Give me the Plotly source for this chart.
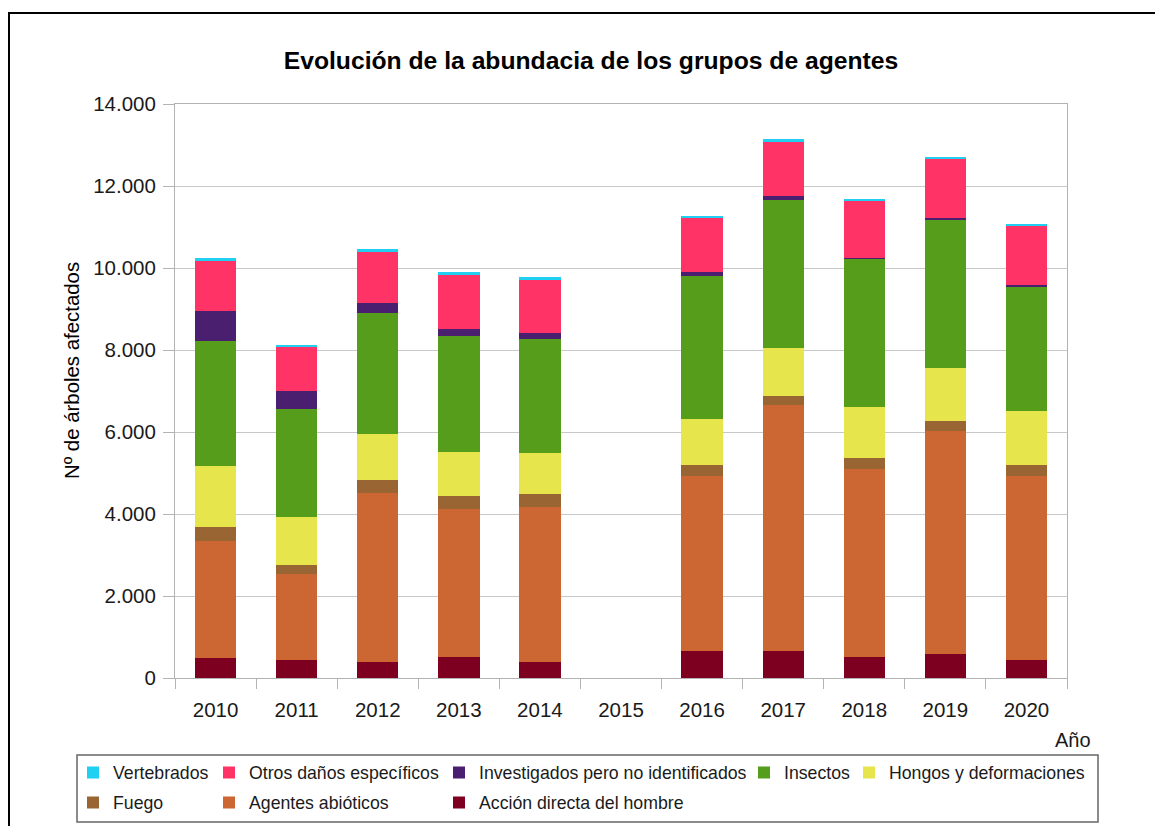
import plotly.graph_objects as go

years = ["2010", "2011", "2012", "2013", "2014", "2015", "2016", "2017", "2018", "2019", "2020"]

accion = [480, 435, 390, 505, 390, None, 650, 670, 505, 585, 435]
abioticos = [2870, 2090, 4130, 3625, 3775, None, 4280, 5980, 4585, 5435, 4495]
fuego = [330, 235, 305, 315, 315, None, 270, 235, 280, 260, 270]
hongos = [1480, 1175, 1130, 1060, 1020, None, 1120, 1155, 1245, 1280, 1315]
insectos = [3060, 2635, 2955, 2825, 2765, None, 3485, 3625, 3610, 3635, 3045]
investigados = [720, 435, 235, 175, 155, None, 95, 85, 20, 35, 15]
otros = [1250, 1070, 1245, 1315, 1280, None, 1330, 1330, 1390, 1425, 1445]
vertebrados = [45, 35, 80, 80, 70, None, 45, 70, 60, 50, 50]

series_names = ["Acción directa del hombre", "Agentes abióticos", "Fuego",
                "Hongos y deformaciones", "Insectos", "Investigados pero no identificados",
                "Otros daños específicos", "Vertebrados"]
series_values = [accion, abioticos, fuego, hongos, insectos, investigados, otros, vertebrados]
series_colors = ["#7e0021", "#cc6633", "#996633", "#e6e64c", "#579d1c", "#4b1f6f",
                 "#ff3366", "#1fd0f2"]

# The page body has an 8px margin; the figure is sized so that it fills the window.
OFF = 8
W, H = 1147, 818
# plot area in reference-window pixels
L, R, T, B = 175, 1067, 104, 678
FONT = "Liberation Sans, Arial, sans-serif"

# legend placement in reference-window px: (left, row-center-y)
legend_pos = {
    "Vertebrados": (73, 773),
    "Otros daños específicos": (209, 773),
    "Investigados pero no identificados": (439, 773),
    "Insectos": (744, 773),
    "Hongos y deformaciones": (849, 773),
    "Fuego": (73, 803),
    "Agentes abióticos": (209, 803),
    "Acción directa del hombre": (439, 803),
}
legend_ids = {n: f"legend{i+2}" for i, n in enumerate(legend_pos)}

fig = go.Figure()
for name, vals, col in zip(series_names, series_values, series_colors):
    fig.add_trace(go.Bar(
        x=years, y=vals, name=name,
        marker=dict(color=col, line=dict(width=0)),
        legend=legend_ids[name],
    ))

layout_legends = {}
for name, (lx, ly) in legend_pos.items():
    layout_legends[legend_ids[name]] = dict(
        xref="container", yref="container",
        x=(lx - OFF) / W, y=1 - (ly - OFF) / H, xanchor="left", yanchor="middle",
        orientation="h", bgcolor="rgba(0,0,0,0)", borderwidth=0,
        font=dict(family=FONT, size=17.7, color="#1a1a1a"),
    )

def px_x(p):
    return (p - L) / (R - L)

def px_y(p):
    return (B - p) / (B - T)

fig.update_layout(
    width=W, height=H,
    margin=dict(l=L - OFF, r=W - (R - OFF), t=T - OFF, b=H - (B - OFF), pad=0),
    paper_bgcolor="white", plot_bgcolor="white",
    barmode="stack", bargap=0.49,
    separators=",.",
    showlegend=True,
    font=dict(family=FONT, color="#1a1a1a"),
    title=dict(
        text="<b>Evolución de la abundacia de los grupos de agentes</b>",
        x=(591 - OFF) / W, xanchor="center", xref="container",
        y=1 - (60 - OFF) / H, yanchor="middle", yref="container",
        font=dict(family=FONT, size=24.7, color="#000000"),
    ),
    xaxis=dict(
        type="category", categoryorder="array", categoryarray=years,
        showline=True, linecolor="#b3b3b3", linewidth=1, mirror=True,
        ticks="outside", tickson="boundaries", ticklen=10, tickcolor="#b3b3b3",
        tickfont=dict(family=FONT, size=20.5, color="#1a1a1a"),
        ticklabelstandoff=13,
        showgrid=False,
    ),
    yaxis=dict(
        range=[0, 14000], dtick=2000, tickformat=",",
        showgrid=True, gridcolor="#c8c8c8", gridwidth=1,
        showline=True, linecolor="#b3b3b3", linewidth=1, mirror=True,
        ticks="outside", ticklen=11, tickcolor="#b3b3b3",
        tickfont=dict(family=FONT, size=20.5, color="#1a1a1a"),
        ticklabelstandoff=3,
        zeroline=False,
    ),
    annotations=[
        dict(text="Nº de árboles afectados", xref="paper", yref="paper",
             x=px_x(72), y=px_y(371), xanchor="center", yanchor="middle",
             textangle=-90, showarrow=False,
             font=dict(family=FONT, size=20.4, color="#000000")),
        dict(text="Año", xref="paper", yref="paper",
             x=px_x(1093), y=px_y(740), xanchor="right", yanchor="middle",
             showarrow=False,
             font=dict(family=FONT, size=20, color="#1a1a1a")),
    ],
    shapes=[
        dict(type="rect", xref="paper", yref="paper",
             x0=px_x(9), x1=px_x(1180), y0=px_y(860), y1=px_y(13),
             line=dict(color="#000000", width=2), fillcolor="rgba(0,0,0,0)", layer="below"),
        dict(type="rect", xref="paper", yref="paper",
             x0=px_x(77), x1=px_x(1098), y0=px_y(822), y1=px_y(755),
             line=dict(color="#666666", width=1.5), fillcolor="rgba(0,0,0,0)", layer="below"),
    ],
    **layout_legends,
)

fig.write_html("out.html")
